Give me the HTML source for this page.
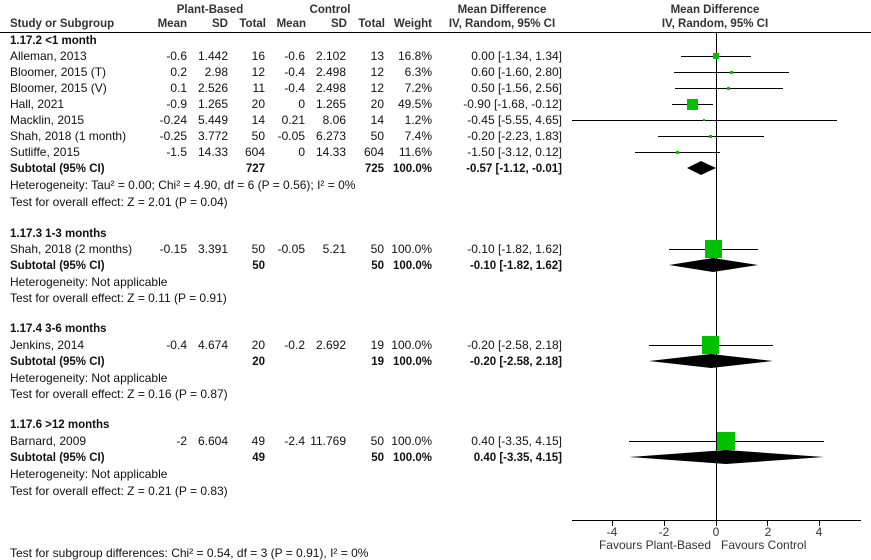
<!DOCTYPE html>
<html><head><meta charset="utf-8"><style>
html,body{margin:0;padding:0;background:#fff;}
svg{display:block;font-family:"Liberation Sans",Arial,sans-serif;font-size:12px;fill:#111;}
.b{font-weight:bold;font-size:11.5px;}
.r{text-anchor:end;}
.c{text-anchor:middle;}
.h{fill:#333;}
</style></head><body>
<svg width="871" height="560" viewBox="0 0 871 560">
<!-- headers -->
<text class="b c h" x="210" y="13">Plant-Based</text>
<text class="b c h" x="330" y="13">Control</text>
<text class="b c h" x="502" y="13">Mean Difference</text>
<text class="b c h" x="715" y="13">Mean Difference</text>
<text class="b h" x="10" y="27">Study or Subgroup</text>
<text class="b r h" x="187" y="27">Mean</text>
<text class="b r h" x="228" y="27">SD</text>
<text class="b r h" x="266" y="27">Total</text>
<text class="b r h" x="306" y="27">Mean</text>
<text class="b r h" x="347" y="27">SD</text>
<text class="b r h" x="385" y="27">Total</text>
<text class="b r h" x="432" y="27">Weight</text>
<text class="b c h" x="502" y="27">IV, Random, 95% CI</text>
<text class="b c h" x="715" y="27">IV, Random, 95% CI</text>
<line x1="0" y1="32.5" x2="871" y2="32.5" stroke="#000"/>

<g>
<text class="b" x="10" y="44">1.17.2 &lt;1 month</text>
<text x="10" y="60">Alleman, 2013</text><text class="r" x="187" y="60">-0.6</text><text class="r" x="228" y="60">1.442</text><text class="r" x="265" y="60">16</text><text class="r" x="305" y="60">-0.6</text><text class="r" x="346" y="60">2.102</text><text class="r" x="384" y="60">13</text><text class="r" x="432" y="60">16.8%</text><text class="r" x="562" y="60">0.00 [-1.34, 1.34]</text>
<text x="10" y="76">Bloomer, 2015 (T)</text><text class="r" x="187" y="76">0.2</text><text class="r" x="228" y="76">2.98</text><text class="r" x="265" y="76">12</text><text class="r" x="305" y="76">-0.4</text><text class="r" x="346" y="76">2.498</text><text class="r" x="384" y="76">12</text><text class="r" x="432" y="76">6.3%</text><text class="r" x="562" y="76">0.60 [-1.60, 2.80]</text>
<text x="10" y="92">Bloomer, 2015 (V)</text><text class="r" x="187" y="92">0.1</text><text class="r" x="228" y="92">2.526</text><text class="r" x="265" y="92">11</text><text class="r" x="305" y="92">-0.4</text><text class="r" x="346" y="92">2.498</text><text class="r" x="384" y="92">12</text><text class="r" x="432" y="92">7.2%</text><text class="r" x="562" y="92">0.50 [-1.56, 2.56]</text>
<text x="10" y="108">Hall, 2021</text><text class="r" x="187" y="108">-0.9</text><text class="r" x="228" y="108">1.265</text><text class="r" x="265" y="108">20</text><text class="r" x="305" y="108">0</text><text class="r" x="346" y="108">1.265</text><text class="r" x="384" y="108">20</text><text class="r" x="432" y="108">49.5%</text><text class="r" x="562" y="108">-0.90 [-1.68, -0.12]</text>
<text x="10" y="124">Macklin, 2015</text><text class="r" x="187" y="124">-0.24</text><text class="r" x="228" y="124">5.449</text><text class="r" x="265" y="124">14</text><text class="r" x="305" y="124">0.21</text><text class="r" x="346" y="124">8.06</text><text class="r" x="384" y="124">14</text><text class="r" x="432" y="124">1.2%</text><text class="r" x="562" y="124">-0.45 [-5.55, 4.65]</text>
<text x="10" y="140">Shah, 2018 (1 month)</text><text class="r" x="187" y="140">-0.25</text><text class="r" x="228" y="140">3.772</text><text class="r" x="265" y="140">50</text><text class="r" x="305" y="140">-0.05</text><text class="r" x="346" y="140">6.273</text><text class="r" x="384" y="140">50</text><text class="r" x="432" y="140">7.4%</text><text class="r" x="562" y="140">-0.20 [-2.23, 1.83]</text>
<text x="10" y="156">Sutliffe, 2015</text><text class="r" x="187" y="156">-1.5</text><text class="r" x="228" y="156">14.33</text><text class="r" x="265" y="156">604</text><text class="r" x="305" y="156">0</text><text class="r" x="346" y="156">14.33</text><text class="r" x="384" y="156">604</text><text class="r" x="432" y="156">11.6%</text><text class="r" x="562" y="156">-1.50 [-3.12, 0.12]</text>
<text class="b" x="10" y="172">Subtotal (95% CI)</text><text class="b r" x="265" y="172">727</text><text class="b r" x="384" y="172">725</text><text class="b r" x="432" y="172">100.0%</text><text class="b r" x="562" y="172">-0.57 [-1.12, -0.01]</text>
<text x="10" y="189">Heterogeneity: Tau² = 0.00; Chi² = 4.90, df = 6 (P = 0.56); I² = 0%</text>
<text x="10" y="206">Test for overall effect: Z = 2.01 (P = 0.04)</text>

<text class="b" x="10" y="237">1.17.3 1-3 months</text>
<text x="10" y="253">Shah, 2018 (2 months)</text><text class="r" x="187" y="253">-0.15</text><text class="r" x="228" y="253">3.391</text><text class="r" x="265" y="253">50</text><text class="r" x="305" y="253">-0.05</text><text class="r" x="346" y="253">5.21</text><text class="r" x="384" y="253">50</text><text class="r" x="432" y="253">100.0%</text><text class="r" x="562" y="253">-0.10 [-1.82, 1.62]</text>
<text class="b" x="10" y="269">Subtotal (95% CI)</text><text class="b r" x="265" y="269">50</text><text class="b r" x="384" y="269">50</text><text class="b r" x="432" y="269">100.0%</text><text class="b r" x="562" y="269">-0.10 [-1.82, 1.62]</text>
<text x="10" y="286">Heterogeneity: Not applicable</text>
<text x="10" y="302">Test for overall effect: Z = 0.11 (P = 0.91)</text>

<text class="b" x="10" y="332">1.17.4 3-6 months</text>
<text x="10" y="349">Jenkins, 2014</text><text class="r" x="187" y="349">-0.4</text><text class="r" x="228" y="349">4.674</text><text class="r" x="265" y="349">20</text><text class="r" x="305" y="349">-0.2</text><text class="r" x="346" y="349">2.692</text><text class="r" x="384" y="349">19</text><text class="r" x="432" y="349">100.0%</text><text class="r" x="562" y="349">-0.20 [-2.58, 2.18]</text>
<text class="b" x="10" y="365">Subtotal (95% CI)</text><text class="b r" x="265" y="365">20</text><text class="b r" x="384" y="365">19</text><text class="b r" x="432" y="365">100.0%</text><text class="b r" x="562" y="365">-0.20 [-2.58, 2.18]</text>
<text x="10" y="382">Heterogeneity: Not applicable</text>
<text x="10" y="398">Test for overall effect: Z = 0.16 (P = 0.87)</text>

<text class="b" x="10" y="428">1.17.6 &gt;12 months</text>
<text x="10" y="445">Barnard, 2009</text><text class="r" x="187" y="445">-2</text><text class="r" x="228" y="445">6.604</text><text class="r" x="265" y="445">49</text><text class="r" x="305" y="445">-2.4</text><text class="r" x="346" y="445">11.769</text><text class="r" x="384" y="445">50</text><text class="r" x="432" y="445">100.0%</text><text class="r" x="562" y="445">0.40 [-3.35, 4.15]</text>
<text class="b" x="10" y="461">Subtotal (95% CI)</text><text class="b r" x="265" y="461">49</text><text class="b r" x="384" y="461">50</text><text class="b r" x="432" y="461">100.0%</text><text class="b r" x="562" y="461">0.40 [-3.35, 4.15]</text>
<text x="10" y="478">Heterogeneity: Not applicable</text>
<text x="10" y="495">Test for overall effect: Z = 0.21 (P = 0.83)</text>

<text x="10" y="557">Test for subgroup differences: Chi² = 0.54, df = 3 (P = 0.91), I² = 0%</text>
</g>

<!-- plot -->
<line x1="716.5" y1="33" x2="716.5" y2="520" stroke="#000"/>
<g stroke="#000" stroke-width="1">
<line x1="681" y1="56.5" x2="751" y2="56.5"/>
<line x1="674" y1="72.5" x2="789" y2="72.5"/>
<line x1="675" y1="88.5" x2="783" y2="88.5"/>
<line x1="672" y1="104.5" x2="713" y2="104.5"/>
<line x1="572" y1="120.5" x2="837" y2="120.5"/>
<line x1="658" y1="136.5" x2="764" y2="136.5"/>
<line x1="635" y1="152.5" x2="720" y2="152.5"/>
<line x1="669" y1="249.5" x2="758" y2="249.5"/>
<line x1="649" y1="345.5" x2="773" y2="345.5"/>
<line x1="629" y1="441.5" x2="824" y2="441.5"/>
</g>
<g fill="#00c000">
<rect x="713" y="53" width="6" height="6"/>
<rect x="730" y="71" width="3" height="3"/>
<rect x="727" y="87" width="3" height="3"/>
<rect x="687" y="99" width="11" height="11"/>
<rect x="703" y="119" width="2" height="2"/>
<rect x="709" y="135" width="3" height="3"/>
<rect x="676" y="151" width="3" height="3"/>
<rect x="705" y="240" width="17" height="18"/>
<rect x="702" y="336" width="17" height="18"/>
<rect x="717" y="432" width="18" height="18"/>
</g>
<g fill="#000">
<polygon points="687,168 701,161 716,168 701,175"/>
<polygon points="669,265 713,258 758,265 713,272"/>
<polygon points="649,361 711,354 773,361 711,368"/>
<polygon points="629,457 726,450 824,457 726,464"/>
</g>
<!-- axis -->
<g stroke="#000">
<line x1="572" y1="520.5" x2="861" y2="520.5"/>
<line x1="612.5" y1="520" x2="612.5" y2="526"/>
<line x1="664.5" y1="520" x2="664.5" y2="526"/>
<line x1="716.5" y1="520" x2="716.5" y2="526"/>
<line x1="767.5" y1="520" x2="767.5" y2="526"/>
<line x1="819.5" y1="520" x2="819.5" y2="526"/>
</g>
<g class="h">
<text class="c" x="612" y="536">-4</text>
<text class="c" x="664" y="536">-2</text>
<text class="c" x="716" y="536">0</text>
<text class="c" x="768" y="536">2</text>
<text class="c" x="819" y="536">4</text>
<text class="r" x="711" y="549">Favours Plant-Based</text>
<text x="721" y="549">Favours Control</text>
</g>
</svg>
</body></html>
